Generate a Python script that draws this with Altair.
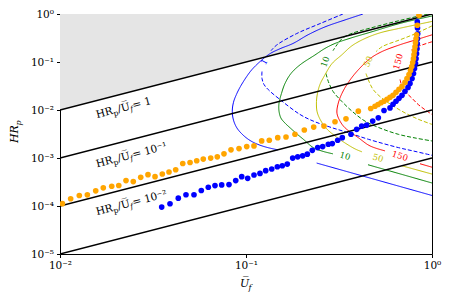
import altair as alt
import pandas as pd

# ---------------- scatter data ----------------
orange_x = [0.0103, 0.01141, 0.0127, 0.01403, 0.01556, 0.01709, 0.01897, 0.0207, 0.02264, 0.02477,
            0.02716, 0.02972, 0.03243, 0.03548, 0.03855, 0.04188, 0.0457, 0.05003, 0.05433, 0.05893,
            0.06459, 0.07009, 0.07615, 0.08306, 0.09172, 0.1009, 0.1104, 0.1214, 0.1334, 0.1481,
            0.1641, 0.1834, 0.2058, 0.2312, 0.2626, 0.301, 0.3448, 0.4016, 0.4683,
            0.4938, 0.5126, 0.532, 0.5521, 0.573, 0.5946, 0.6171, 0.6405, 0.6646, 0.6898, 0.7158,
            0.7338, 0.7522, 0.7664, 0.778, 0.7875, 0.7953, 0.8003, 0.8053, 0.8103, 0.8154, 0.8204,
            0.8255, 0.8337, 0.8513]
orange_y = [1.117e-4, 1.416e-4, 1.656e-4, 1.711e-4, 2.07e-4, 2.39e-4, 2.58e-4, 2.67e-4, 3.38e-4, 3.22e-4,
            3.95e-4, 4.5e-4, 4.09e-4, 4.65e-4, 5.12e-4, 5.7e-4, 7.69e-4, 8.07e-4, 8.75e-4, 9.49e-4,
            9.95e-4, 1.059e-3, 1.221e-3, 1.477e-3, 1.571e-3, 1.729e-3, 1.787e-3, 2.266e-3, 2.344e-3, 2.65e-3,
            2.74e-3, 3.12e-3, 3.83e-3, 4.41e-3, 4.63e-3, 5.68e-3, 6.55e-3, 9.45e-3, 1.074e-2,
            0.01198, 0.013, 0.01416, 0.0152, 0.01672, 0.01839, 0.02022, 0.02333, 0.02691, 0.03103, 0.03753,
            0.04539, 0.05492, 0.06643, 0.08035, 0.09718, 0.1175, 0.1422, 0.172, 0.208, 0.2517, 0.3044,
            0.3683, 0.5841, 0.94]

blue_x = [0.03522, 0.03903, 0.04325, 0.04757, 0.05253, 0.0575, 0.06271, 0.06812, 0.07401, 0.08102,
          0.08805, 0.09482, 0.1021, 0.1104, 0.1189, 0.1276, 0.1375, 0.1474, 0.1567, 0.1667,
          0.1783, 0.1897, 0.2017, 0.2136, 0.2272, 0.2429, 0.2584, 0.277, 0.2911, 0.3112,
          0.3294, 0.3669, 0.3937, 0.4188, 0.4455, 0.48, 0.5145, 0.5521, 0.5946,
          0.6171, 0.6405, 0.6646, 0.6898, 0.7158, 0.743, 0.7615, 0.7809, 0.7953, 0.8053,
          0.8154, 0.8204, 0.8255, 0.8307, 0.8337, 0.8356, 0.8378, 0.8356, 0.8337]
blue_y = [9.49e-5, 1.115e-4, 1.456e-4, 1.712e-4, 1.712e-4, 2.1e-4, 2.457e-4, 2.665e-4, 2.754e-4, 2.794e-4,
          3.38e-4, 4.09e-4, 3.77e-4, 4.43e-4, 4.78e-4, 5.44e-4, 5.9e-4, 6.58e-4, 6.9e-4, 7.48e-4,
          9.95e-4, 1.059e-3, 1.11e-3, 1.204e-3, 1.443e-3, 1.648e-3, 1.728e-3, 1.937e-3, 1.993e-3, 2.344e-3,
          2.652e-3, 3.118e-3, 3.955e-3, 4.63e-3, 4.85e-3, 5.87e-3, 6.87e-3, 9.77e-3, 1.105e-2,
          0.01318, 0.0152, 0.01753, 0.02022, 0.02446, 0.02958, 0.03578, 0.04539, 0.05759, 0.07305,
          0.09267, 0.1175, 0.1491, 0.1891, 0.24, 0.3044, 0.3862, 0.5137, 0.6835]

# ---------------- contour curves (U_f, HR_p) ----------------
re1_solid_upper = [(0.4256, 1.0), (0.3405, 0.7516), (0.2659, 0.5386), (0.2154, 0.3683), (0.1790, 0.2434),
                   (0.1524, 0.1891), (0.1346, 0.1491), (0.1189, 0.1019), (0.1077, 0.06966), (0.1009, 0.04992),
                   (0.09341, 0.03101), (0.08889, 0.02121), (0.08566, 0.01449), (0.08439, 0.009445),
                   (0.08566, 0.006157), (0.08944, 0.004207), (0.09636, 0.003015), (0.1051, 0.002321),
                   (0.1160, 0.001919), (0.1297, 0.001664), (0.1486, 0.001477)]
re1_solid_lower = [(0.2399, 7.845e-4), (1.0, 1.656e-4)]
re1_dashed_upper = [(0.3322, 1.0), (0.2499, 0.6303), (0.1874, 0.3917), (0.1462, 0.2256), (0.1363, 0.1720)]
re1_dashed_lower = [(0.1219, 0.06332), (0.1219, 0.04539), (0.1249, 0.03412), (0.1318, 0.02652),
                    (0.1524, 0.01648), (0.1951, 0.008072), (0.2300, 0.005870), (0.2828, 0.004411),
                    (0.3548, 0.003364), (0.4545, 0.002458), (0.6589, 0.001648), (0.8103, 0.001375),
                    (1.0, 0.001137)]

re10_solid_upper = [(1.0, 0.9093), (0.6730, 0.6363), (0.4642, 0.4147), (0.3623, 0.3117), (0.3010, 0.2434),
                    (0.2659, 0.1919), (0.2350, 0.1402), (0.1951, 0.08710), (0.1745, 0.05759),
                    (0.1621, 0.03578), (0.1552, 0.02223), (0.1505, 0.01382), (0.1505, 0.009445),
                    (0.1542, 0.006770), (0.1621, 0.005337), (0.1724, 0.004268), (0.1880, 0.003162),
                    (0.2033, 0.002458), (0.2300, 0.001648), (0.2594, 0.001375), (0.2936, 0.001221)]
re10_solid_lower = [(0.4528, 7.236e-4), (1.0, 3.015e-4)]
re10_dashed_upper = [(0.9517, 1.0), (0.6730, 0.7338), (0.4642, 0.5066), (0.3715, 0.3955),
                     (0.3322, 0.3192), (0.3084, 0.2289), (0.2936, 0.1720)]
re10_dashed_lower = [(0.2692, 0.05759), (0.2770, 0.03936), (0.2936, 0.02446), (0.3269, 0.01520),
                     (0.3715, 0.009445), (0.4363, 0.005870), (0.5254, 0.004207), (0.6589, 0.003118),
                     (0.8103, 0.002615), (1.0, 0.002266)]

re50_solid_upper = [(1.0, 0.6998), (0.6589, 0.4969), (0.5254, 0.4049), (0.4363, 0.3088), (0.3715, 0.2183),
                    (0.3269, 0.1402), (0.2900, 0.09267), (0.2659, 0.05413), (0.2499, 0.03412),
                    (0.2423, 0.02223), (0.2393, 0.01520), (0.2408, 0.009445), (0.2499, 0.006455),
                    (0.2692, 0.004207), (0.3010, 0.002875), (0.3405, 0.002061), (0.3855, 0.001549),
                    (0.4205, 0.001343)]
re50_solid_lower = [(0.6873, 6.90e-4), (1.0, 4.627e-4)]
re50_dashed_upper = [(1.0, 0.5650), (0.8103, 0.3862), (0.6730, 0.2903), (0.5386, 0.2080), (0.5000, 0.1640)]
re50_dashed_lower = [(0.4416, 0.05759), (0.4545, 0.04268), (0.4818, 0.02691), (0.5366, 0.01778),
                     (0.6095, 0.01257), (0.7158, 0.008710), (0.8409, 0.006455), (1.0, 0.005017)]

re150_solid_upper = [(1.0, 0.3683), (0.8103, 0.2862), (0.6730, 0.2289), (0.5366, 0.1640), (0.4642, 0.1175),
                     (0.4016, 0.06868), (0.3579, 0.03936), (0.3281, 0.02223), (0.3123, 0.01318),
                     (0.3084, 0.008587), (0.3202, 0.005870), (0.3405, 0.004268), (0.4016, 0.002652),
                     (0.4642, 0.001787), (0.5590, 0.001408)]
re150_solid_lower = [(0.8620, 7.59e-4), (1.0, 6.43e-4)]
re150_dashed_upper = [(1.0, 0.2639), (0.8620, 0.2183), (0.7615, 0.1720)]
re150_dashed_lower = [(0.6730, 0.04329), (0.6898, 0.03103), (0.7158, 0.02446), (0.7809, 0.01753),
                      (0.8437, 0.01299), (0.9171, 0.01014), (1.0, 0.008072)]

BLUE, GREEN, YELLOW, RED = "#0000ff", "#008000", "#bfbf00", "#ff0000"

contour_segments = [
    ("re1_su", BLUE, "solid", re1_solid_upper), ("re1_sl", BLUE, "solid", re1_solid_lower),
    ("re1_du", BLUE, "dashed", re1_dashed_upper), ("re1_dl", BLUE, "dashed", re1_dashed_lower),
    ("re10_su", GREEN, "solid", re10_solid_upper), ("re10_sl", GREEN, "solid", re10_solid_lower),
    ("re10_du", GREEN, "dashed", re10_dashed_upper), ("re10_dl", GREEN, "dashed", re10_dashed_lower),
    ("re50_su", YELLOW, "solid", re50_solid_upper), ("re50_sl", YELLOW, "solid", re50_solid_lower),
    ("re50_du", YELLOW, "dashed", re50_dashed_upper), ("re50_dl", YELLOW, "dashed", re50_dashed_lower),
    ("re150_su", RED, "solid", re150_solid_upper), ("re150_sl", RED, "solid", re150_solid_lower),
    ("re150_du", RED, "dashed", re150_dashed_upper), ("re150_dl", RED, "dashed", re150_dashed_lower),
]

# contour labels
clabel_text = ["1", "10", "50", "150", "10", "50", "150"]
clabel_x = [0.1249, 0.2659, 0.4528, 0.6565, 0.3405, 0.5126, 0.6730]
clabel_y = [0.1019, 0.1019, 0.1019, 0.1019, 0.001110, 0.001009, 0.001110]
clabel_angle = [300, 290, 295, 285, 16, 16, 18]
clabel_color = [BLUE, GREEN, YELLOW, RED, GREEN, YELLOW, RED]

# ratio lines HR_p / U_f = c
ratio_levels = [1, 0.1, 0.01, 0.001]
ratio_x_ends = [0.01, 1.0]
ratio_label_value = [" = 1", " = 10\u207b\u00b9", " = 10\u207b\u00b2"]
ratio_label_x = [0.01581, 0.01581, 0.01581]
ratio_label_y = [0.006770, 6.363e-4, 6.394e-5]

x_ticks = [0.01, 0.1, 1]
y_ticks = [1e-5, 1e-4, 1e-3, 1e-2, 1e-1, 1]

# ---------------- build tables ----------------
pts_orange = pd.DataFrame({"x": orange_x, "y": orange_y})
pts_blue = pd.DataFrame({"x": blue_x, "y": blue_y})

rows = []
for name, col, dash, pts in contour_segments:
    for i, (xv, yv) in enumerate(pts):
        rows.append({"seg": name, "color": col, "dash": dash, "order": i, "x": xv, "y": yv})
contour_df = pd.DataFrame(rows)

line_rows = []
for c in ratio_levels:
    for xe in ratio_x_ends:
        line_rows.append({"c": str(c), "x": xe, "y": c * xe})
lines_df = pd.DataFrame(line_rows)

area_df = pd.DataFrame({"x": ratio_x_ends, "y": [ratio_x_ends[0], ratio_x_ends[1]], "y2": [1.0, 1.0]})

clabel_df = pd.DataFrame({"x": clabel_x, "y": clabel_y, "t": clabel_text,
                          "ang": clabel_angle, "color": clabel_color})
rlabel_df = pd.DataFrame({"x": ratio_label_x, "y": ratio_label_y, "v": ratio_label_value})

# ---------------- encodings ----------------
SERIF = "DejaVu Serif"
label_expr = ("datum.value >= 0.5 ? '10\u2070' : datum.value >= 0.05 ? '10\u207b\u00b9' : "
              "datum.value >= 0.005 ? '10\u207b\u00b2' : datum.value >= 0.0005 ? '10\u207b\u00b3' : "
              "datum.value >= 0.00005 ? '10\u207b\u2074' : '10\u207b\u2075'")

x_scale = alt.Scale(type="log", domain=[0.01, 1], nice=False)
y_scale = alt.Scale(type="log", domain=[1e-5, 1], nice=False)
x_axis = alt.Axis(values=x_ticks, labelExpr=label_expr, title=None, grid=False, domain=False,
                  tickSize=3.5, tickColor="black", labelFont=SERIF, labelFontSize=10.5,
                  labelColor="black", labelPadding=3, labelFlush=False)
y_axis = alt.Axis(values=y_ticks, labelExpr=label_expr, title=None, grid=False, domain=False,
                  tickSize=3.5, tickColor="black", labelFont=SERIF, labelFontSize=10.5,
                  labelColor="black", labelPadding=3, labelFlush=False)


def X():
    return alt.X("x:Q", scale=x_scale, axis=x_axis)


def Y():
    return alt.Y("y:Q", scale=y_scale, axis=y_axis)


area = alt.Chart(area_df).mark_area(color="#e5e5e5", clip=True).encode(x=X(), y=Y(), y2="y2:Q")

black_lines = alt.Chart(lines_df).mark_line(color="black", strokeWidth=1.5, clip=True).encode(
    x=X(), y=Y(), detail="c:N")

contours = alt.Chart(contour_df).mark_line(strokeWidth=1, clip=True, interpolate="catmull-rom").encode(
    x=X(), y=Y(), detail="seg:N", order="order:Q",
    color=alt.Color("color:N", scale=None),
    strokeDash=alt.StrokeDash("dash:N", scale=alt.Scale(domain=["solid", "dashed"], range=[[1, 0], [4, 2]]),
                              legend=None))

blue_pts = alt.Chart(pts_blue).mark_circle(size=32, opacity=1, color=BLUE, clip=True).encode(x=X(), y=Y())
orange_pts = alt.Chart(pts_orange).mark_circle(size=32, opacity=1, color="#ffa500", clip=True).encode(
    x=X(), y=Y())

clabels = alt.Chart(clabel_df).mark_text(font=SERIF, fontSize=8.5, align="center", baseline="middle").encode(
    x=X(), y=Y(), text="t:N", angle=alt.Angle("ang:Q", scale=None), color=alt.Color("color:N", scale=None))

RANG = 345.4
piece_specs = [("HR", 0, 0, 10.5), ("p", 17.3, 2.5, 7.5), ("/U\u0305", 22.2, 0, 10.5), ("f", 34.6, 2.5, 7.5)]
rlabel_layers = []
for txt, dx, dy, fs in piece_specs:
    style = "italic" if txt == "f" else "normal"
    rlabel_layers.append(
        alt.Chart(rlabel_df).mark_text(text=txt, font=SERIF, fontSize=fs, fontStyle=style, align="left",
                                       baseline="alphabetic", angle=RANG, dx=dx, dy=dy, color="black")
        .encode(x=X(), y=Y()))
rlabel_layers.append(
    alt.Chart(rlabel_df).mark_text(font=SERIF, fontSize=10.5, align="left", baseline="alphabetic",
                                   angle=RANG, dx=37.6, dy=0, color="black")
    .encode(x=X(), y=Y(), text="v:N"))

title_df = pd.DataFrame({"k": [0]})
ytitle = [
    alt.Chart(title_df).mark_text(text="HR", font=SERIF, fontSize=11, fontStyle="italic", align="left",
                                  baseline="alphabetic", angle=270, color="black")
    .encode(x=alt.value(-42), y=alt.value(129)),
    alt.Chart(title_df).mark_text(text="p", font=SERIF, fontSize=8, fontStyle="italic", align="left",
                                  baseline="alphabetic", angle=270, dx=17.5, dy=3, color="black")
    .encode(x=alt.value(-42), y=alt.value(129)),
]
xtitle = [
    alt.Chart(title_df).mark_text(text="U\u0305", font=SERIF, fontSize=11, fontStyle="italic", align="left",
                                  baseline="alphabetic", color="black")
    .encode(x=alt.value(180), y=alt.value(273)),
    alt.Chart(title_df).mark_text(text="f", font=SERIF, fontSize=8, fontStyle="italic", align="left",
                                  baseline="alphabetic", dx=8.5, dy=3, color="black")
    .encode(x=alt.value(180), y=alt.value(273)),
]

chart = alt.layer(
    area, contours, black_lines, blue_pts, orange_pts, clabels, *rlabel_layers, *ytitle, *xtitle
).properties(
    width=372, height=240,
    autosize=alt.AutoSizeParams(type="none"),
    padding={"left": 52, "top": 6, "right": 10, "bottom": 39},
).configure_view(stroke="black", strokeWidth=1)

chart.save("out.html", embed_options={"renderer": "svg", "actions": False})
